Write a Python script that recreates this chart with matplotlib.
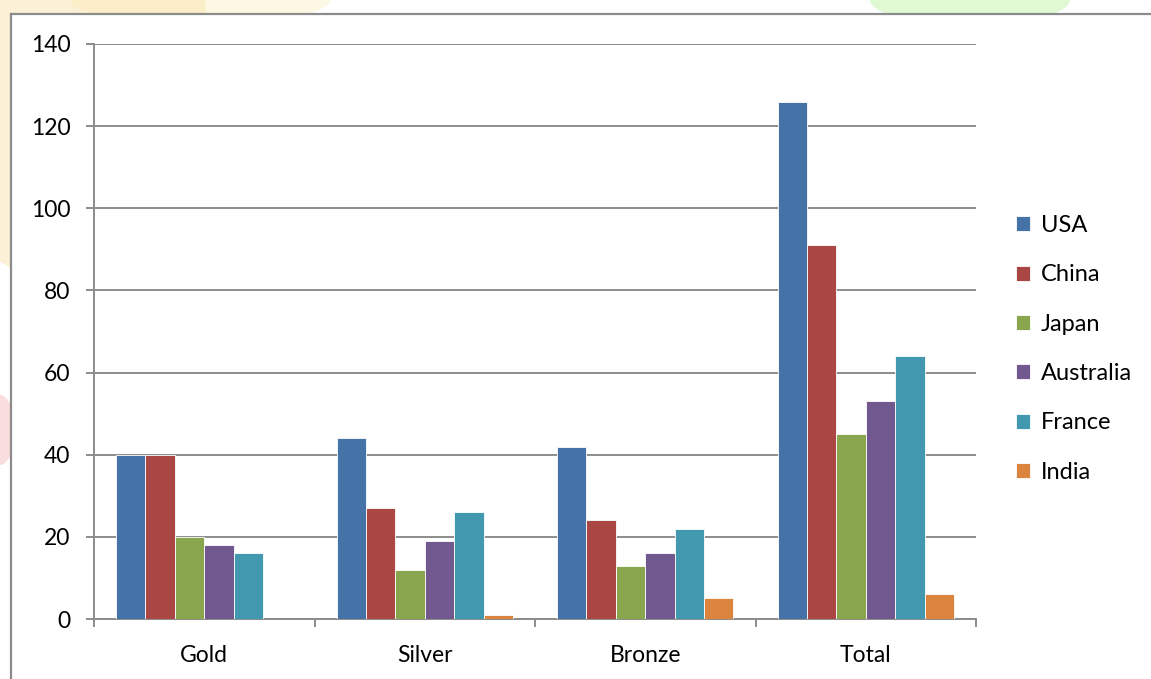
import matplotlib.pyplot as plt
import numpy as np
from matplotlib.patches import Ellipse

plt.rcParams['font.family'] = ['Lato', 'DejaVu Sans']

categories = ["Gold", "Silver", "Bronze", "Total"]
countries = ["USA", "China", "Japan", "Australia", "France", "India"]
usa = [40, 44, 42, 126]
china = [40, 27, 24, 91]
japan = [20, 12, 13, 45]
australia = [18, 19, 16, 53]
france = [16, 26, 22, 64]
india = [0, 1, 5, 6]
series = [usa, china, japan, australia, france, india]
colors = ["#4572A7", "#AA4643", "#89A54E", "#71588F", "#4198AF", "#DB843D"]

W, H = 1151, 679
fig = plt.figure(figsize=(W / 100, H / 100), dpi=100)
fig.patch.set_facecolor("white")

# faint watermark behind the chart frame
bg = fig.add_axes([0, 0, 1, 1])
bg.set_xlim(0, W)
bg.set_ylim(H, 0)
bg.axis("off")
for (cx, cy, ew, eh, c, a) in [(60, 60, 300, 440, "#F9D98A", 0.35),
                               (200, 0, 260, 50, "#FBE9A8", 0.3),
                               (970, 0, 200, 50, "#C9F5B0", 0.55),
                               (0, 430, 30, 70, "#F2A0A0", 0.35)]:
    bg.add_patch(Ellipse((cx, cy), ew, eh, facecolor=c, edgecolor="none", alpha=a))

# chart frame (runs off the right and bottom edges)
frame = fig.add_axes([11 / W, 0, 1 - 11 / W, 1 - 14 / H])
frame.set_xticks([])
frame.set_yticks([])
frame.set_facecolor("white")
for s in ["right", "bottom"]:
    frame.spines[s].set_visible(False)
for s in ["left", "top"]:
    frame.spines[s].set_color("#8C8C8C")
    frame.spines[s].set_linewidth(1.6)

ax = fig.add_axes([94 / W, 60 / H, (976 - 94) / W, (619 - 44) / H])
ax.patch.set_alpha(0)

n = len(countries)
w = 1 / (n + 1.5)
x = np.arange(len(categories))
for j, (name, vals, c) in enumerate(zip(countries, series, colors)):
    ax.bar(x + (j - (n - 1) / 2) * w, vals, width=w, color=c, edgecolor="white",
           linewidth=0.6, label=name, zorder=3)

ax.set_xlim(-0.5, len(categories) - 0.5)
ax.set_ylim(0, 140)
ax.set_yticks(np.arange(0, 141, 20))
ax.yaxis.grid(True, color="#8C8C8C", linewidth=1.4, zorder=0)
ax.set_axisbelow(True)

ax.set_xticks(np.arange(-0.5, len(categories), 1.0))
ax.set_xticklabels([])
ax.set_xticks(x, minor=True)
ax.set_xticklabels(categories, minor=True)
ax.tick_params(axis="x", which="major", length=6, width=1.4, color="#8C8C8C", direction="out")
ax.tick_params(axis="x", which="minor", length=0, pad=19, labelsize=16.5)
ax.tick_params(axis="y", length=6, width=1.4, color="#8C8C8C", pad=11, labelsize=16.5)

for s in ["top", "right"]:
    ax.spines[s].set_visible(False)
for s in ["left", "bottom"]:
    ax.spines[s].set_color("#8C8C8C")
    ax.spines[s].set_linewidth(1.4)

fig.legend(loc="center left", bbox_to_anchor=(1016 / W, 1 - 349 / H), frameon=False,
           fontsize=17, handlelength=0.6, handleheight=0.6, handletextpad=0.45,
           labelspacing=1.2, borderpad=0, borderaxespad=0)

fig.savefig("out.png", dpi=100)
